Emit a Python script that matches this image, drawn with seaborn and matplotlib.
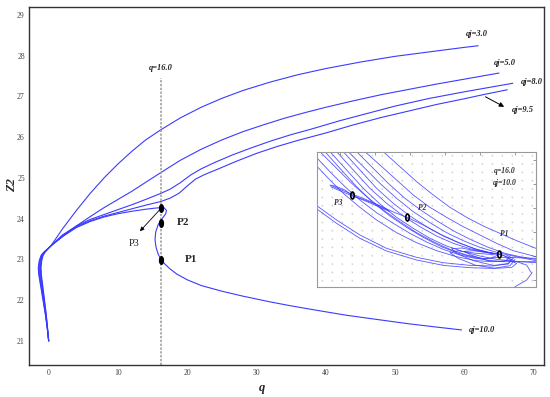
import numpy as np
import pandas as pd
import matplotlib
matplotlib.use("Agg")
import matplotlib.pyplot as plt
import matplotlib.transforms as mtransforms
from matplotlib.path import Path
import seaborn as sns

# ---- main diagram: Z2 versus q for several qj ----
# common start near q = 0, bending round to the junction at Z2 ~ 23.3
left_branch = {
    "3.0": [(0.0, 21.0), (-0.15, 21.3), (-0.35, 21.65), (-0.6, 22.0), (-0.85, 22.35),
            (-1.05, 22.62), (-1.1, 22.8), (-1.0, 22.97), (-0.8, 23.1), (-0.5, 23.18),
            (-0.15, 23.25), (0.3, 23.33)],
    "5.0": [(0.0, 21.0), (-0.17, 21.3), (-0.38, 21.65), (-0.65, 22.0), (-0.92, 22.35),
            (-1.14, 22.62), (-1.2, 22.8), (-1.09, 22.97), (-0.87, 23.1), (-0.55, 23.18),
            (-0.17, 23.25), (0.3, 23.33)],
    "8.0": [(0.0, 21.0), (-0.18, 21.3), (-0.41, 21.65), (-0.71, 22.0), (-1.0, 22.35),
            (-1.23, 22.62), (-1.3, 22.8), (-1.18, 22.97), (-0.95, 23.1), (-0.59, 23.18),
            (-0.18, 23.25), (0.3, 23.33)],
    "9.5": [(0.0, 21.0), (-0.19, 21.3), (-0.45, 21.65), (-0.76, 22.0), (-1.08, 22.35),
            (-1.33, 22.62), (-1.4, 22.8), (-1.27, 22.97), (-1.02, 23.1), (-0.64, 23.18),
            (-0.19, 23.25), (0.3, 23.33)],
    "10.0": [(0.0, 21.0), (-0.2, 21.3), (-0.48, 21.65), (-0.82, 22.0), (-1.16, 22.35),
             (-1.43, 22.62), (-1.5, 22.8), (-1.36, 22.97), (-1.09, 23.1), (-0.68, 23.18),
             (-0.2, 23.25), (0.3, 23.33)],
}

qj3_q = [1.0, 2.0, 4.0, 6.0, 8.0, 10.0, 12.0, 14.0, 16.2, 19.0, 22.0, 25.0, 28.0,
         32.0, 36.0, 40.0, 45.0, 50.0, 55.0, 60.0, 62.0]
qj3_z = [23.5, 23.75, 24.2, 24.62, 25.0, 25.34, 25.65, 25.93, 26.18, 26.47, 26.73,
         26.95, 27.14, 27.35, 27.53, 27.68, 27.84, 27.98, 28.09, 28.2, 28.24]

qj5_q = [2.0, 4.0, 6.0, 8.0, 10.0, 12.0, 14.0, 16.2, 19.0, 22.0, 25.0, 28.0, 31.0,
         34.0, 37.0, 40.0, 44.0, 48.0, 52.0, 56.0, 60.0, 65.0]
qj5_z = [23.56, 23.82, 24.05, 24.27, 24.47, 24.67, 24.89, 25.13, 25.43, 25.7, 25.93,
         26.13, 26.3, 26.46, 26.6, 26.73, 26.89, 27.04, 27.17, 27.3, 27.42, 27.57]

qj8_q = [2.0, 4.0, 6.0, 8.0, 10.0, 12.0, 14.0, 16.2, 17.5, 19.0, 20.5, 22.0, 24.0,
         26.5, 29.0, 32.0, 35.0, 38.0, 42.0, 46.0, 50.0, 55.0, 60.0, 64.0, 67.0]
qj8_z = [23.6, 23.82, 23.98, 24.1, 24.22, 24.34, 24.47, 24.62, 24.72, 24.88, 25.07,
         25.22, 25.38, 25.56, 25.72, 25.9, 26.06, 26.2, 26.4, 26.58, 26.76, 26.95,
         27.11, 27.23, 27.32]

qj95_q = [2.0, 4.0, 6.0, 8.0, 10.0, 12.0, 14.0, 16.2, 17.5, 18.8, 20.0, 21.2, 22.5,
          24.5, 27.0, 30.0, 33.0, 36.0, 40.0, 44.0, 48.0, 52.0, 56.0, 60.0, 63.0, 66.2]
qj95_z = [23.58, 23.8, 23.95, 24.06, 24.15, 24.24, 24.33, 24.42, 24.5, 24.62, 24.8,
          24.97, 25.08, 25.22, 25.4, 25.6, 25.77, 25.92, 26.1, 26.3, 26.48, 26.64,
          26.8, 26.94, 27.05, 27.16]

qj10_q = [2.0, 4.0, 6.0, 8.0, 10.0, 12.0, 14.0, 15.5, 16.2, 16.7, 17.0, 16.9, 16.6,
          16.2, 15.8, 15.45, 15.35, 15.5, 15.8, 16.2, 16.8, 17.5, 18.5, 20.0, 22.0,
          25.0, 28.0, 31.9, 35.0, 39.1, 43.0, 46.4, 52.0, 56.0, 59.6]
qj10_z = [23.56, 23.78, 23.93, 24.04, 24.12, 24.18, 24.23, 24.26, 24.27, 24.26,
          24.2, 24.12, 24.05, 23.97, 23.85, 23.67, 23.48, 23.3, 23.13, 23.0, 22.88,
          22.77, 22.64, 22.5, 22.36, 22.22, 22.1, 21.96, 21.86, 21.74, 21.63, 21.55,
          21.42, 21.34, 21.27]

right_branch = {"3.0": (qj3_q, qj3_z), "5.0": (qj5_q, qj5_z), "8.0": (qj8_q, qj8_z),
                "9.5": (qj95_q, qj95_z), "10.0": (qj10_q, qj10_z)}

# equilibrium points on q = 16.0
pt_q = [16.2, 16.2, 16.2]
pt_z = [24.25, 23.9, 22.99]

# ---- inset phase portrait (arbitrary units, y axis downward) ----
inset_curves = [
    [(2.20, 0.95), (2.70, 1.40), (3.20, 1.85), (3.70, 2.25), (4.20, 2.62), (4.70, 2.92),
     (5.20, 3.18), (5.70, 3.40), (6.20, 3.62), (6.78, 3.85)],
    [(1.65, 0.95), (2.10, 1.35), (2.60, 1.80), (3.10, 2.25), (3.60, 2.62), (4.10, 2.92),
     (4.60, 3.20), (5.10, 3.45), (5.60, 3.70), (6.10, 3.92), (6.78, 4.10)],
    [(1.40, 0.95), (1.85, 1.40), (2.35, 1.90), (2.85, 2.35), (3.35, 2.72), (3.85, 3.05),
     (4.35, 3.35), (4.85, 3.60), (5.35, 3.82), (5.85, 4.00), (6.30, 4.10), (6.78, 4.18)],
    [(1.15, 0.95), (1.60, 1.40), (2.10, 1.90), (2.60, 2.35), (3.10, 2.75), (3.60, 3.08),
     (4.10, 3.38), (4.60, 3.62), (5.10, 3.82), (5.60, 3.97), (6.10, 4.08), (6.78, 4.22)],
    [(1.00, 0.95), (1.50, 1.50), (2.00, 2.05), (2.50, 2.50), (3.00, 2.88), (3.50, 3.20),
     (4.00, 3.48), (4.50, 3.70), (5.00, 3.88), (5.40, 3.98), (5.80, 4.06), (6.05, 4.18),
     (5.95, 4.32), (5.50, 4.36), (4.90, 4.22), (4.40, 4.00), (4.25, 3.86), (4.55, 3.84),
     (5.05, 3.93), (5.50, 4.01)],
    [(0.80, 0.95), (1.30, 1.50), (1.80, 2.05), (2.30, 2.50), (2.80, 2.88), (3.30, 3.20),
     (3.80, 3.48), (4.30, 3.70), (4.80, 3.86), (5.30, 3.96), (5.75, 4.04), (5.98, 4.14),
     (5.82, 4.25), (5.35, 4.22), (4.85, 4.06), (4.62, 3.94), (4.90, 3.92), (5.40, 3.99),
     (5.65, 4.02)],
    [(0.60, 0.95), (1.10, 1.50), (1.60, 2.05), (2.10, 2.52), (2.60, 2.92), (3.10, 3.25),
     (3.60, 3.55), (4.10, 3.78), (4.60, 3.95), (5.10, 4.08), (5.60, 4.18), (6.00, 4.22),
     (6.20, 4.30), (6.05, 4.42), (5.55, 4.45), (4.95, 4.35), (4.45, 4.15), (4.20, 3.98),
     (4.45, 3.92), (5.00, 4.00), (5.55, 4.04)],
    [(0.45, 0.95), (0.90, 1.45), (1.40, 2.00), (1.90, 2.48), (2.40, 2.88), (2.90, 3.22),
     (3.40, 3.52), (3.90, 3.78), (4.40, 3.98), (4.90, 4.12), (5.40, 4.22), (5.90, 4.25),
     (6.78, 4.25)],
    [(0.30, 0.95), (0.70, 1.35), (1.20, 1.85), (1.70, 2.30), (2.20, 2.70), (2.70, 3.05),
     (3.20, 3.38), (3.70, 3.65), (4.20, 3.88), (4.70, 4.05), (5.20, 4.16), (5.65, 4.12),
     (5.90, 4.12), (6.78, 4.15)],
    [(0.22, 1.15), (0.60, 1.55), (1.05, 2.00), (1.50, 2.40), (2.00, 2.78), (2.50, 3.10),
     (3.00, 3.40), (3.50, 3.66), (4.00, 3.88), (4.50, 4.05), (5.00, 4.16), (5.40, 4.16),
     (5.68, 4.03)],
    [(0.22, 1.40), (0.60, 1.80), (1.00, 2.20), (1.50, 2.62), (2.00, 3.00), (2.60, 3.38),
     (3.20, 3.68), (3.80, 3.92), (4.40, 4.10), (5.00, 4.22), (5.50, 4.25), (5.85, 4.22),
     (6.78, 4.28)],
    # loop round P3 and the connection P3 -> P2 -> P1
    [(1.25, 2.26), (1.05, 2.10), (0.75, 1.98), (0.60, 1.95), (0.80, 2.04), (1.15, 2.18),
     (1.60, 2.35), (2.05, 2.55), (2.40, 2.75), (2.10, 2.62), (1.65, 2.42), (1.20, 2.25),
     (0.85, 2.10), (0.62, 2.00)],
    [(1.25, 2.26), (1.70, 2.42), (2.20, 2.62), (2.55, 2.78), (2.92, 2.92), (3.40, 3.15),
     (3.90, 3.42), (4.40, 3.65), (4.90, 3.85), (5.35, 3.97), (5.68, 4.03)],
    # lower double arc
    [(0.22, 2.58), (0.80, 3.00), (1.50, 3.45), (2.30, 3.85), (3.20, 4.12), (4.00, 4.28),
     (4.80, 4.36), (5.50, 4.38), (5.95, 4.30), (6.10, 4.15), (5.90, 4.06)],
    [(0.22, 2.68), (0.80, 3.10), (1.50, 3.55), (2.30, 3.93), (3.20, 4.20), (4.00, 4.36),
     (4.80, 4.43), (5.50, 4.45), (6.00, 4.37), (6.15, 4.18)],
    # separatrix to the bottom edge
    [(5.90, 4.15), (6.50, 4.35), (6.65, 4.60), (6.50, 4.80), (6.15, 5.00)],
]
inset_pts_x = [1.25, 2.92, 5.68]
inset_pts_y = [2.26, 2.92, 4.02]
field_x = [0.35, 0.65, 0.95, 1.25, 1.55, 1.85, 2.15, 2.45, 2.75, 3.05, 3.35, 3.65,
           3.95, 4.25, 4.55, 4.85, 5.15, 5.45, 5.75, 6.05, 6.35, 6.65]
field_y = [1.05, 1.30, 1.55, 1.80, 2.05, 2.30, 2.55, 2.80, 3.05, 3.30, 3.55, 3.80,
           4.05, 4.30, 4.55, 4.80]

# ---- build long-form tables ----
rows = []
for name in left_branch:
    qs = [p[0] for p in left_branch[name]] + right_branch[name][0]
    zs = [p[1] for p in left_branch[name]] + right_branch[name][1]
    for i, (q, z) in enumerate(zip(qs, zs)):
        rows.append({"curve": name, "i": i, "q": q, "Z2": z})
df = pd.DataFrame(rows)

inset_rows = []
for k, c in enumerate(inset_curves):
    for i, (x, y) in enumerate(c):
        inset_rows.append({"curve": k, "i": i, "x": x, "y": y})
df_in = pd.DataFrame(inset_rows)

sns.set_style("white")
plt.rcParams["font.family"] = ["Liberation Serif", "DejaVu Serif"]
plt.rcParams["lines.solid_joinstyle"] = "round"
blue = "#3b3bff"

fig = plt.figure(figsize=(5.5, 3.97), dpi=100)
ax = fig.add_axes([29 / 550, 1 - 365 / 397, 515 / 550, 358 / 397])

sns.lineplot(data=df, x="q", y="Z2", units="curve", estimator=None, sort=False,
             color=blue, lw=0.8, ax=ax)
ax.plot([16.2, 16.2], [20.41, 27.45], color="#999999", lw=1.1, ls=(0, (1.5, 1)))

ell = Path.unit_circle().transformed(mtransforms.Affine2D().scale(0.5, 1.0))
ax.plot(pt_q, pt_z, ls="none", marker=ell, ms=5.5, color="black")

ax.set_xlim(-2.84, 71.5)
ax.set_ylim(20.41, 29.19)
ax.set_xticks([0, 10, 20, 30, 40, 50, 60, 70])
ax.set_yticks([21, 22, 23, 24, 25, 26, 27, 28, 29])
ax.tick_params(direction="in", length=4, width=0.6, labelsize=5.5, labelcolor="#444444",
               color="#444444", pad=3)
ax.set_xlabel("")
ax.set_ylabel("")
for s in ax.spines.values():
    s.set_color("#333333")
    s.set_linewidth(1.0)

lab = dict(fontsize=6, fontweight="bold", fontstyle="italic", color="#222222")
ax.text(16.2, 27.69, "q=16.0", ha="center", va="center", **lab)
ax.text(61.8, 28.52, "qj=3.0", ha="center", va="center", **lab)
ax.text(65.8, 27.81, "qj=5.0", ha="center", va="center", **lab)
ax.text(69.7, 27.36, "qj=8.0", ha="center", va="center", **lab)
ax.text(68.5, 26.66, "qj=9.5", ha="center", va="center", **lab)
ax.text(62.5, 21.26, "qj=10.0", ha="center", va="center", **lab)
ax.annotate("", xy=(66.1, 26.71), xytext=(62.7, 27.02),
            arrowprops=dict(arrowstyle="-|>", color="black", lw=0.7, mutation_scale=7))
ax.annotate("", xy=(12.9, 23.64), xytext=(16.2, 24.25),
            arrowprops=dict(arrowstyle="-|>", color="black", lw=0.6, mutation_scale=6))
ax.text(12.4, 23.4, "P3", ha="center", va="center", fontsize=7.5, color="#222222")
ax.text(18.5, 23.91, "P2", ha="left", va="center", fontsize=8, fontweight="bold")
ax.text(19.6, 23.0, "P1", ha="left", va="center", fontsize=8, fontweight="bold")

fig.text(262 / 550, 1 - 388 / 397, "q", ha="center", va="center", fontsize=9,
         fontweight="bold", fontstyle="italic")
fig.text(12 / 550, 1 - 185 / 397, "Z2", ha="center", va="center", fontsize=9,
         fontweight="bold", fontstyle="italic", rotation=90)

# ---- inset ----
axi = fig.add_axes([317.3 / 550, 1 - 286.7 / 397, 218.7 / 550, 135 / 397])
fx, fy = np.meshgrid(field_x, field_y)
axi.quiver(fx, fy, np.full(fx.shape, 0.05), np.full(fx.shape, 0.05), color="#c8c8c8",
           angles="xy", scale_units="xy", scale=1, width=0.003, headwidth=3,
           headlength=3, headaxislength=2.5)
sns.lineplot(data=df_in, x="x", y="y", units="curve", estimator=None, sort=False,
             color=blue, lw=0.6, alpha=0.85, ax=axi)
axi.plot(inset_pts_x, inset_pts_y, ls="none", marker=ell, ms=5, mfc="none",
         mec="black", mew=1.2)
axi.set_xlim(0.22, 6.78)
axi.set_ylim(5.0, 0.95)
axi.set_xticks([0.9, 1.95, 3.0, 4.05, 5.1, 6.15])
axi.set_yticks([1.19, 1.92, 2.64, 3.36, 4.08, 4.8])
axi.tick_params(direction="in", length=2.5, width=0.6, color="#888888",
                labelbottom=False, labelleft=False, top=True, right=True)
axi.set_xlabel("")
axi.set_ylabel("")
for s in axi.spines.values():
    s.set_color("#999999")
    s.set_linewidth(0.8)

ilab = dict(fontsize=5.5, fontweight="bold", fontstyle="italic", color="#333333")
axi.text(0.85, 2.48, "P3", ha="center", va="center", **ilab)
axi.text(3.38, 2.65, "P2", ha="center", va="center", **ilab)
axi.text(5.82, 3.42, "P1", ha="center", va="center", **ilab)
axi.text(5.85, 1.52, "q=16.0", ha="center", va="center", **ilab)
axi.text(5.85, 1.88, "qj=10.0", ha="center", va="center", **ilab)

fig.savefig("out.png", dpi=100)
